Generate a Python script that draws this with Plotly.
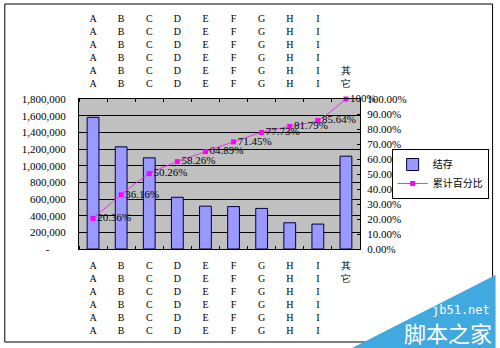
import plotly.graph_objects as go

categories = ["A", "B", "C", "D", "E", "F", "G", "H", "I", "其它"]
stock = [1580000, 1226000, 1094000, 621000, 514000, 509000, 487000, 315000, 299000, 1114000]
cum_pct = [0.2036, 0.3616, 0.5026, 0.5826, 0.6489, 0.7145, 0.7773, 0.8179, 0.8564, 1.0]
cum_labels = ["20.36%", "36.16%", "50.26%", "58.26%", "64.89%", "71.45%", "77.73%", "81.79%", "85.64%", "100%"]
left_ticks = [0, 200000, 400000, 600000, 800000, 1000000, 1200000, 1400000, 1600000, 1800000]
right_ticks = [i / 10 for i in range(11)]

def cat_label(c):
    if c == "其它":
        return "其<br>它"
    return "<br>".join([c] * 6)

xpos = list(range(len(categories)))
tick_text = [cat_label(c) for c in categories]
left_text = ["-" + "\u00a0" * 6 if v == 0 else f"{v:,}" for v in left_ticks]
right_text = [f"{v*100:.2f}%" for v in right_ticks]

serif = "Liberation Serif"

fig = go.Figure()
fig.add_trace(go.Bar(
    x=xpos, y=stock, name="结存",
    marker=dict(color="#9999FF", line=dict(color="#000040", width=1)),
    xaxis="x", yaxis="y",
))
fig.add_trace(go.Scatter(
    x=xpos, y=cum_pct, name="累计百分比",
    mode="lines+markers+text",
    line=dict(color="#E633E6", width=1, shape="spline", smoothing=0.6),
    marker=dict(symbol="square", size=5, color="#FF00FF"),
    text=cum_labels, textposition="middle right",
    textfont=dict(family=serif, size=11, color="black"),
    cliponaxis=False,
    xaxis="x2", yaxis="y2",
))

L, R, T, B = 79, 363, 99, 249
W, H = 500, 348
pw, ph = R - L, B - T

def px_x(v):
    return (v - L) / pw

def px_y(v):
    return (B - v) / ph

minor_vals = [i + 0.5 for i in range(-1, len(categories))]

xcommon = dict(
    range=[-0.5, len(categories) - 0.5],
    tickmode="array", tickvals=xpos, ticktext=tick_text,
    ticks="", showgrid=False, zeroline=False,
    showline=True, linecolor="black", linewidth=1,
    tickfont=dict(family=serif, size=10, color="black"),
    ticklabelstandoff=7,
    minor=dict(tickmode="array", tickvals=minor_vals, ticks="inside", ticklen=3,
               tickcolor="black", showgrid=False),
)

fig.update_layout(
    width=W, height=H,
    margin=dict(l=L, r=W - R, t=T, b=H - B),
    paper_bgcolor="white", plot_bgcolor="#C0C0C0",
    bargap=0.58,
    showlegend=True,
    xaxis=dict(**xcommon, side="bottom", anchor="y"),
    xaxis2=dict(**xcommon, side="top", overlaying="x", anchor="y2"),
    yaxis=dict(
        range=[0, 1800000], tickmode="array", tickvals=left_ticks, ticktext=left_text,
        showgrid=True, gridcolor="black", gridwidth=1, zeroline=False,
        showline=True, linecolor="black", linewidth=1, ticks="",
        tickfont=dict(family=serif, size=11, color="black"), ticklabelstandoff=10,
    ),
    yaxis2=dict(
        range=[0, 1], tickmode="array", tickvals=right_ticks, ticktext=right_text,
        overlaying="y", side="right", anchor="x2",
        showgrid=False, zeroline=False,
        showline=True, linecolor="black", linewidth=1,
        ticks="inside", ticklen=3, tickcolor="black",
        tickfont=dict(family=serif, size=11, color="black"), ticklabelstandoff=4,
    ),
    legend=dict(
        x=px_x(493), y=px_y(174), xanchor="right", yanchor="middle",
        bgcolor="white", bordercolor="black", borderwidth=1,
        font=dict(family="Noto Sans CJK SC", size=10, color="black"),
        itemwidth=30, tracegroupgap=0,
    ),
    shapes=[
        dict(type="rect", xref="paper", yref="paper",
             x0=px_x(4), x1=px_x(497), y0=px_y(342), y1=px_y(4),
             line=dict(color="black", width=1), layer="below"),
        dict(type="path", xref="paper", yref="paper",
             path=f"M {px_x(355)} {px_y(348)} L {px_x(500)} {px_y(275)} L {px_x(500)} {px_y(348)} Z",
             fillcolor="#3FA9E0", line=dict(width=0), layer="above"),
    ],
    annotations=[
        dict(text="jb51.net", xref="paper", yref="paper", x=px_x(496), y=px_y(310),
             xanchor="right", yanchor="middle", showarrow=False,
             font=dict(family="DejaVu Sans Mono", size=12, color="white")),
        dict(text="脚本之家", xref="paper", yref="paper", x=px_x(498), y=px_y(332),
             xanchor="right", yanchor="middle", showarrow=False,
             font=dict(family="Noto Sans CJK SC", size=22, color="white")),
    ],
)

fig.write_html("out.html")
